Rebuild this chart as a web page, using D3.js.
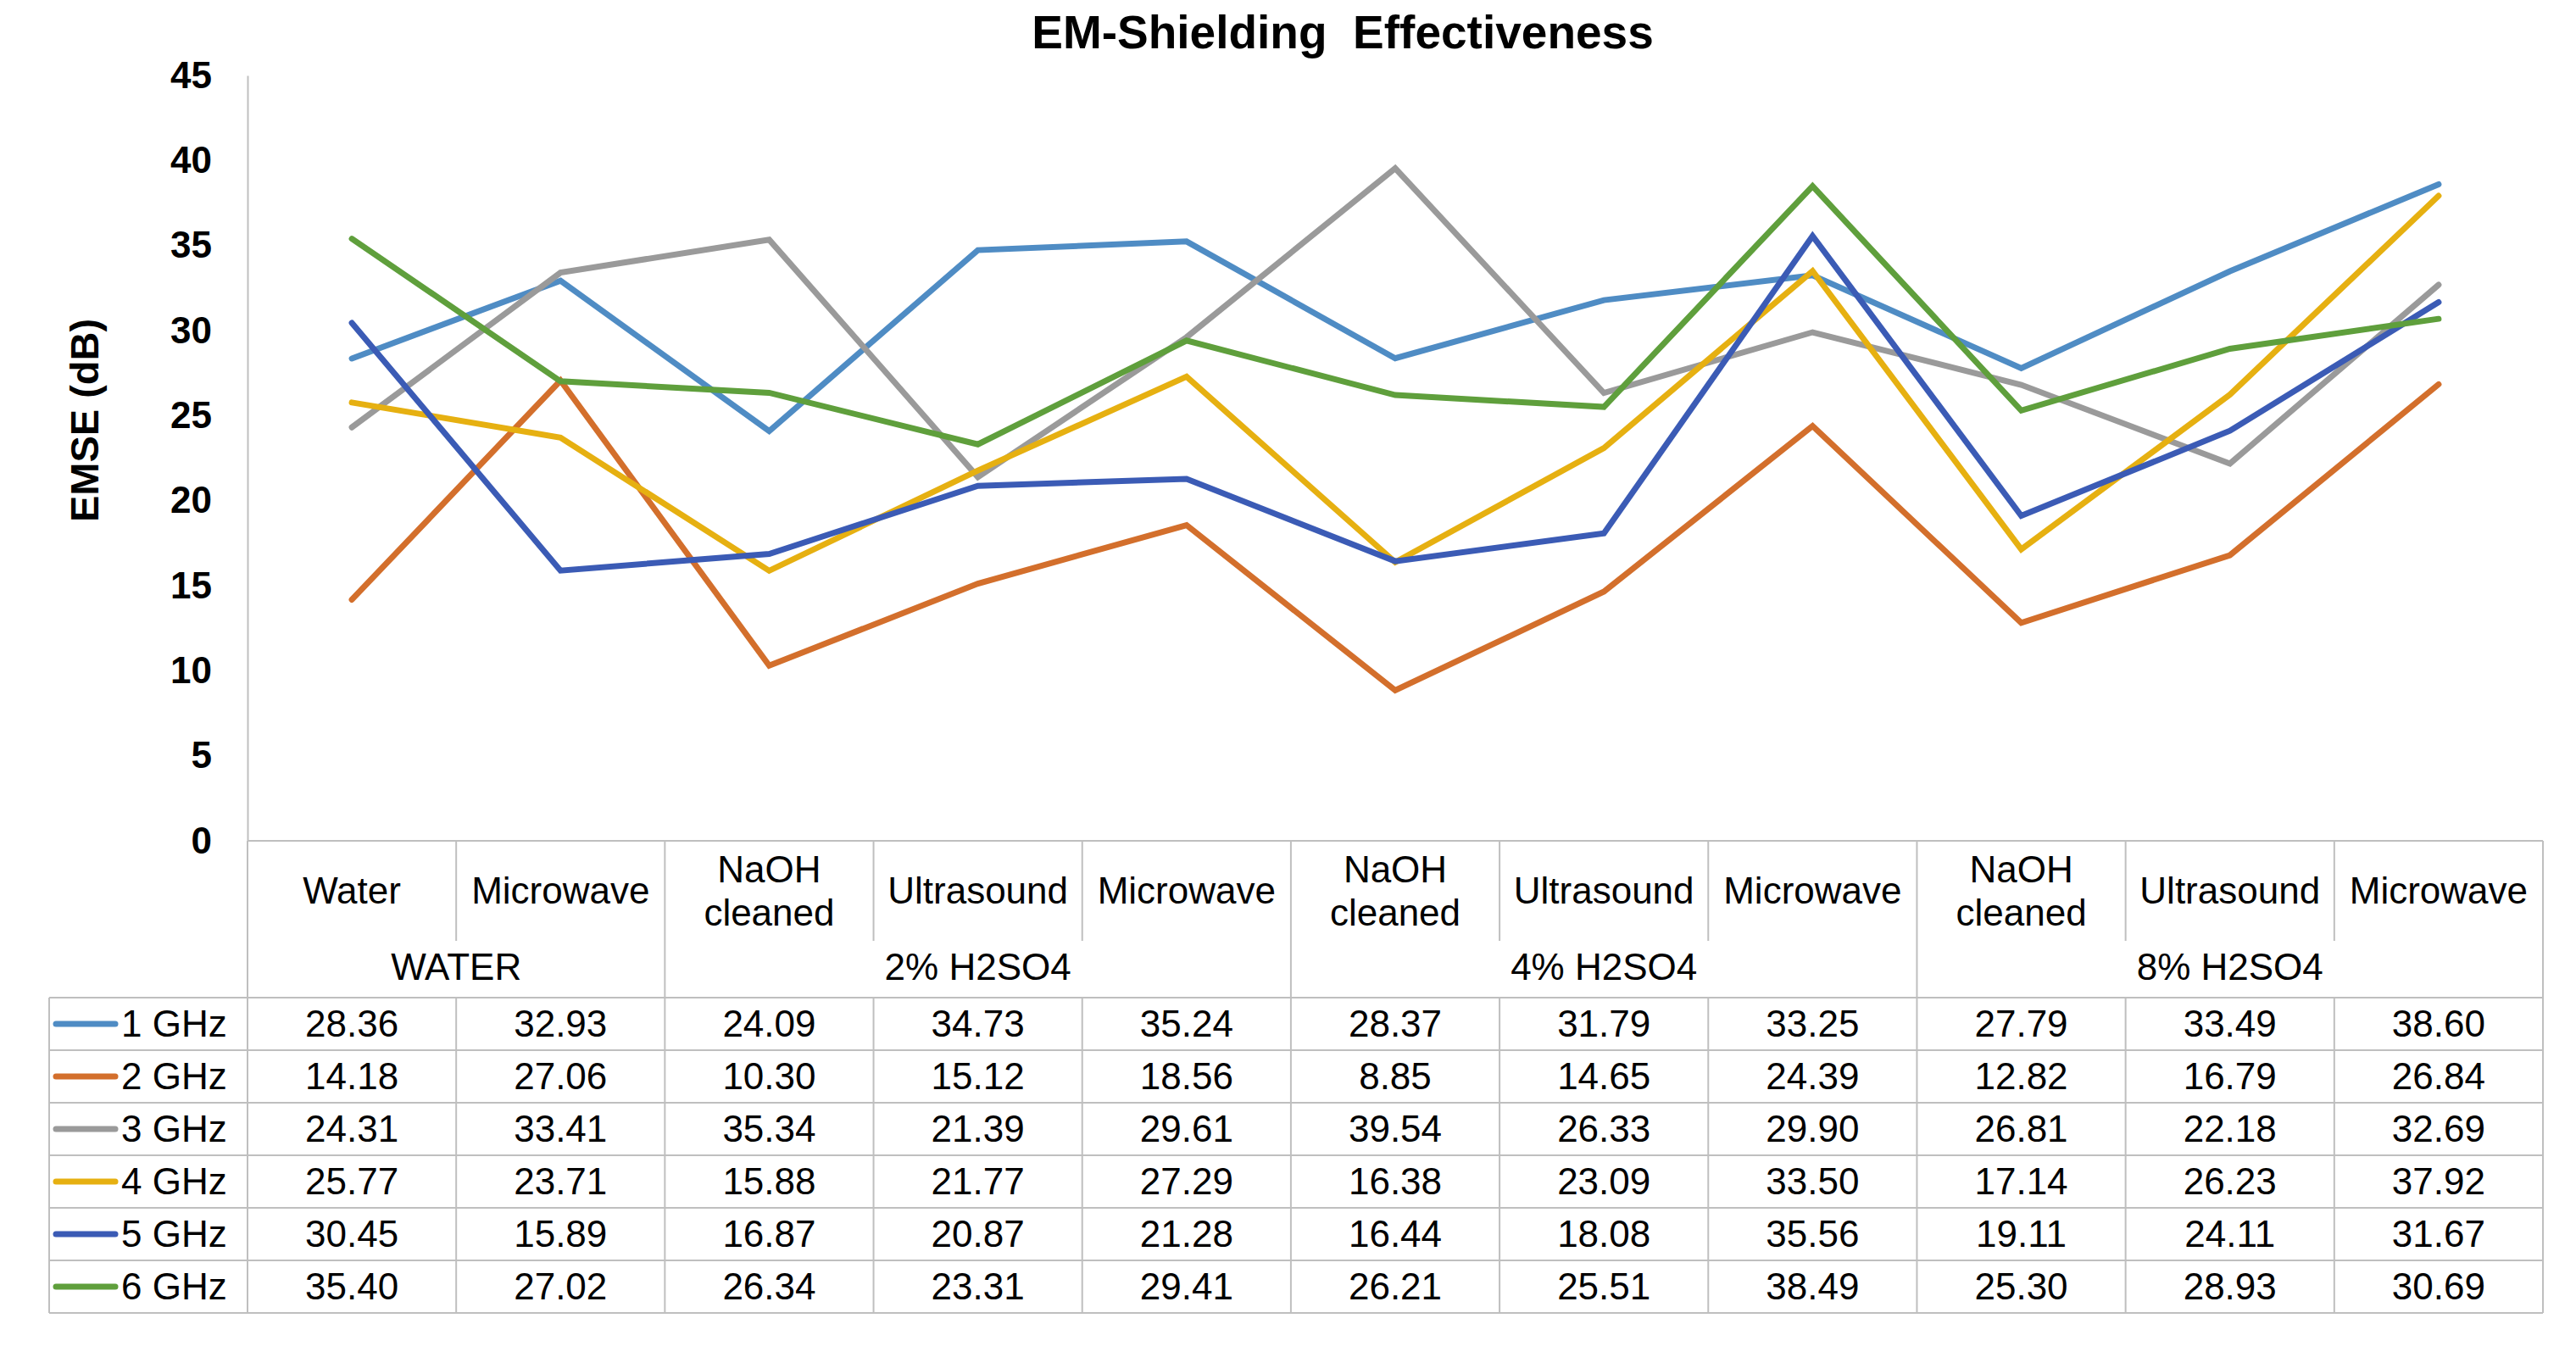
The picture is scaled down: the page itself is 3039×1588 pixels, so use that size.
<!DOCTYPE html>
<html>
<head>
<meta charset="utf-8">
<script src="https://cdn.jsdelivr.net/npm/d3@7"></script>
<style>
  body { margin: 0; background: #fff; }
  text { font-family: "Liberation Sans", Arial, sans-serif; fill: #000; }
</style>
</head>
<body>
<svg id="chart" width="3039" height="1588"></svg>
<script>
// categories along the x axis (table columns)
var categories = ["Water", "Microwave", "NaOH\ncleaned", "Ultrasound", "Microwave",
                  "NaOH\ncleaned", "Ultrasound", "Microwave",
                  "NaOH\ncleaned", "Ultrasound", "Microwave"];
var groupNames = ["WATER", "2% H2SO4", "4% H2SO4", "8% H2SO4"];
var groupSizes = [2, 3, 3, 3];

var seriesNames = ["1 GHz", "2 GHz", "3 GHz", "4 GHz", "5 GHz", "6 GHz"];
var ghz1 = [28.36, 32.93, 24.09, 34.73, 35.24, 28.37, 31.79, 33.25, 27.79, 33.49, 38.60];
var ghz2 = [14.18, 27.06, 10.30, 15.12, 18.56, 8.85, 14.65, 24.39, 12.82, 16.79, 26.84];
var ghz3 = [24.31, 33.41, 35.34, 21.39, 29.61, 39.54, 26.33, 29.90, 26.81, 22.18, 32.69];
var ghz4 = [25.77, 23.71, 15.88, 21.77, 27.29, 16.38, 23.09, 33.50, 17.14, 26.23, 37.92];
var ghz5 = [30.45, 15.89, 16.87, 20.87, 21.28, 16.44, 18.08, 35.56, 19.11, 24.11, 31.67];
var ghz6 = [35.40, 27.02, 26.34, 23.31, 29.41, 26.21, 25.51, 38.49, 25.30, 28.93, 30.69];
var series = [ghz1, ghz2, ghz3, ghz4, ghz5, ghz6];
var colors = ["#4f8cc4", "#d36f2c", "#9a9a9a", "#e6b011", "#3b5bb5", "#5f9f3c"];

var yTicks = [0, 5, 10, 15, 20, 25, 30, 35, 40, 45];

var svg = d3.select("#chart");
var gridColor = "#bfbfbf";

var plotLeft = 292, plotRight = 3000, plotTop = 89, plotBottom = 992;
var x = d3.scaleBand().domain(d3.range(categories.length)).range([plotLeft, plotRight]);
var y = d3.scaleLinear().domain([0, 45]).range([plotBottom, plotTop]);

// title
svg.append("text")
    .attr("x", 1584).attr("y", 57)
    .attr("text-anchor", "middle")
    .style("font-size", "55px").style("font-weight", "bold")
    .text("EM-Shielding\u00a0\u00a0Effectiveness");

// y axis
var yAxis = svg.append("g")
    .attr("transform", "translate(" + plotLeft + ",0)")
    .call(d3.axisLeft(y).tickValues(yTicks).tickSize(0).tickPadding(42));
yAxis.select(".domain").attr("stroke", gridColor).attr("stroke-width", 2);
yAxis.selectAll("text")
    .style("font-size", "44px").style("font-weight", "bold")
    .style("font-family", "Liberation Sans, Arial, sans-serif");

svg.append("text")
    .attr("transform", "translate(100,496) rotate(-90)")
    .attr("text-anchor", "middle").attr("dy", "0.35em")
    .style("font-size", "47px").style("font-weight", "bold")
    .text("EMSE (dB)");

// lines
var line = d3.line()
    .x(function(d, i) { return x(i) + x.bandwidth() / 2; })
    .y(function(d) { return y(d); });

svg.append("g").selectAll("path")
    .data(series)
    .enter().append("path")
    .attr("d", line)
    .attr("fill", "none")
    .attr("stroke", function(d, i) { return colors[i]; })
    .attr("stroke-width", 7)
    .attr("stroke-linecap", "round")
    .attr("stroke-linejoin", "miter");

// data table under the chart
var headTop = plotBottom, subBottom = 1110, headBottom = 1177;
var rowH = 62, legendLeft = 58;
var tableBottom = headBottom + rowH * series.length;
var grid = svg.append("g").attr("stroke", gridColor).attr("stroke-width", 2);

// group start indices
var groupStart = [];
var acc = 0;
groupSizes.forEach(function(s) { groupStart.push(acc); acc += s; });

grid.append("line").attr("x1", plotLeft).attr("x2", plotRight).attr("y1", headTop).attr("y2", headTop);
d3.range(series.length + 1).forEach(function(r) {
    var yy = headBottom + r * rowH;
    grid.append("line").attr("x1", legendLeft).attr("x2", plotRight).attr("y1", yy).attr("y2", yy);
});
grid.append("line").attr("x1", legendLeft).attr("x2", legendLeft).attr("y1", headBottom).attr("y2", tableBottom);
grid.append("line").attr("x1", plotLeft).attr("x2", plotLeft).attr("y1", plotBottom).attr("y2", tableBottom);
grid.append("line").attr("x1", plotRight).attr("x2", plotRight).attr("y1", headTop).attr("y2", tableBottom);
d3.range(1, categories.length).forEach(function(i) {
    var xx = x(i);
    var isGroup = groupStart.indexOf(i) >= 0;
    grid.append("line").attr("x1", xx).attr("x2", xx)
        .attr("y1", headTop).attr("y2", isGroup ? tableBottom : subBottom);
    if (!isGroup) {
        grid.append("line").attr("x1", xx).attr("x2", xx)
            .attr("y1", headBottom).attr("y2", tableBottom);
    }
});

// category labels
var catText = svg.append("g").selectAll("text")
    .data(categories)
    .enter().append("text")
    .attr("text-anchor", "middle")
    .style("font-size", "44px");
catText.each(function(d, i) {
    var parts = d.split("\n");
    var cx = x(i) + x.bandwidth() / 2;
    var mid = (headTop + subBottom) / 2;
    var t = d3.select(this);
    parts.forEach(function(p, k) {
        t.append("tspan")
            .attr("x", cx)
            .attr("y", mid + (k - (parts.length - 1) / 2) * 51)
            .attr("dy", "0.35em")
            .text(p);
    });
});

// group labels
svg.append("g").selectAll("text")
    .data(groupNames)
    .enter().append("text")
    .attr("x", function(d, i) {
        var a = groupStart[i], b = a + groupSizes[i] - 1;
        return (x(a) + x(b) + x.bandwidth()) / 2;
    })
    .attr("y", 1141).attr("dy", "0.35em")
    .attr("text-anchor", "middle")
    .style("font-size", "44px")
    .text(function(d) { return d; });

// rows: legend key + values
var fmt = d3.format(".2f");
var rows = svg.append("g").selectAll("g")
    .data(series)
    .enter().append("g")
    .attr("transform", function(d, r) { return "translate(0," + (headBottom + (r + 0.5) * rowH) + ")"; });

rows.append("line")
    .attr("x1", 66).attr("x2", 136)
    .attr("stroke", function(d, r) { return colors[r]; })
    .attr("stroke-width", 7).attr("stroke-linecap", "round");
rows.append("text")
    .attr("x", 143).attr("dy", "0.35em")
    .style("font-size", "44px")
    .text(function(d, r) { return seriesNames[r]; });

rows.selectAll("text.val")
    .data(function(d) { return d; })
    .enter().append("text")
    .attr("class", "val")
    .attr("x", function(d, i) { return x(i) + x.bandwidth() / 2; })
    .attr("dy", "0.35em")
    .attr("text-anchor", "middle")
    .style("font-size", "44px")
    .text(function(d) { return fmt(d); });
</script>
</body>
</html>
